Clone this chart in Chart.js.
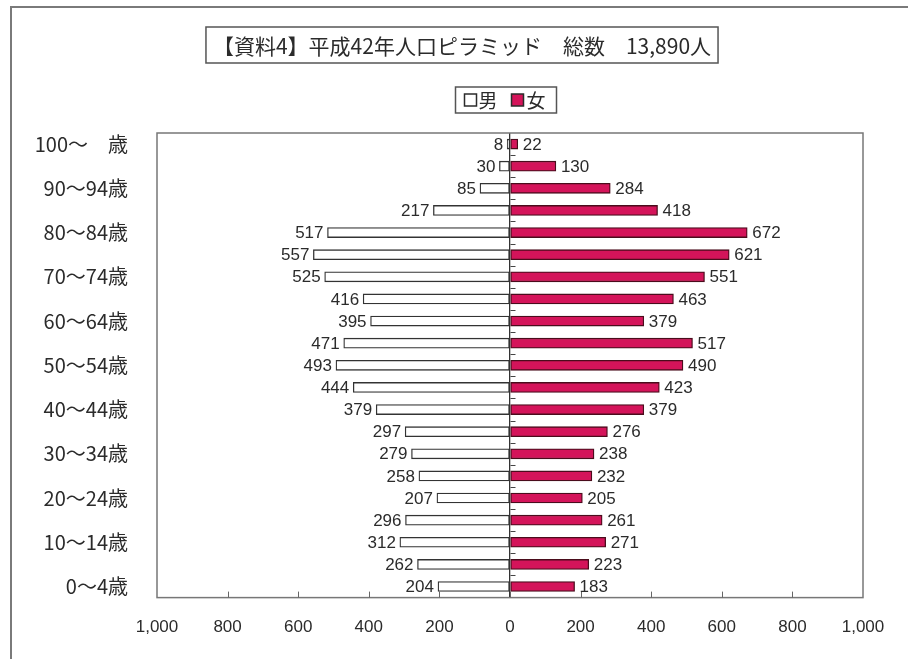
<!DOCTYPE html>
<html lang="ja">
<head>
<meta charset="utf-8">
<script src="https://cdn.jsdelivr.net/npm/chart.js@4"></script>
<style>
  html, body { margin: 0; padding: 0; background: #fff; }
  #wrap { width: 908px; height: 659px; position: relative; }
</style>
</head>
<body>
<div id="wrap"><canvas id="pyramid"></canvas></div>
<script>
// age groups, top row first
const AGE_GROUPS = [
  '100～　歳', '95～99歳', '90～94歳', '85～89歳', '80～84歳', '75～79歳', '70～74歳',
  '65～69歳', '60～64歳', '55～59歳', '50～54歳', '45～49歳', '40～44歳', '35～39歳',
  '30～34歳', '25～29歳', '20～24歳', '15～19歳', '10～14歳', '5～9歳', '0～4歳',
];
const MALE   = [8, 30, 85, 217, 517, 557, 525, 416, 395, 471, 493, 444, 379, 297, 279, 258, 207, 296, 312, 262, 204];
const FEMALE = [22, 130, 284, 418, 672, 621, 551, 463, 379, 517, 490, 423, 379, 276, 238, 232, 205, 261, 271, 223, 183];
const X_TICKS = [-1000, -800, -600, -400, -200, 0, 200, 400, 600, 800, 1000];
const TITLE   = '【資料4】平成42年人口ピラミッド　総数　13,890人';
const LEGEND  = ['男', '女'];

const JP   = "'Noto Sans CJK JP', sans-serif";
const NUM  = "'Liberation Sans', Arial, sans-serif";
const INK  = '#2b2b2b';
const RED  = '#d4145a';

const fmt = v => Math.abs(v).toLocaleString('en-US');

/* ---- frame, plot box, title, legend, value labels ---- */
const decor = {
  id: 'decor',
  afterDraw(chart) {
    const { ctx, chartArea: a, scales } = chart;
    ctx.save();

    // outer page frame (top + left only)
    ctx.strokeStyle = '#7a7a7a';
    ctx.lineWidth = 2;
    ctx.beginPath();
    ctx.moveTo(11, 659); ctx.lineTo(11, 7); ctx.lineTo(908, 7);
    ctx.stroke();

    // plot area border
    ctx.strokeStyle = '#777';
    ctx.lineWidth = 1.5;
    ctx.strokeRect(a.left, a.top, a.right - a.left, a.bottom - a.top);

    // inward x ticks on bottom edge
    const x = scales.x, y = scales.y;
    ctx.strokeStyle = '#666';
    ctx.lineWidth = 1;
    X_TICKS.slice(1, -1).forEach(v => {
      const px = Math.round(x.getPixelForValue(v)) + 0.5;
      ctx.beginPath(); ctx.moveTo(px, a.bottom); ctx.lineTo(px, a.bottom - 6); ctx.stroke();
    });

    // small marks on the zero line between rows
    const x0 = Math.round(x.getPixelForValue(0)) + 0.5;
    ctx.strokeStyle = '#444';
    for (let i = 0; i < AGE_GROUPS.length - 1; i++) {
      const py = Math.round((y.getPixelForTick(i) + y.getPixelForTick(i + 1)) / 2) + 0.5;
      ctx.beginPath(); ctx.moveTo(x0, py); ctx.lineTo(x0 + 5, py); ctx.stroke();
    }

    // boxed title
    const tcx = 462;
    ctx.font = `21px ${JP}`;
    const tw = ctx.measureText(TITLE).width;
    ctx.fillStyle = INK;
    ctx.textAlign = 'center';
    ctx.textBaseline = 'middle';
    ctx.fillText(TITLE, tcx, 46);
    ctx.strokeStyle = '#555';
    ctx.lineWidth = 1.5;
    ctx.strokeRect(tcx - tw / 2 - 7, 27, tw + 14, 36);

    // legend: box centred over the zero line
    const lcx = x0 - 5, ly = 100;
    ctx.strokeRect(lcx - 50, ly - 13, 101, 26);
    ctx.font = `19px ${JP}`;
    ctx.textAlign = 'left';
    ctx.fillStyle = '#fff';
    ctx.strokeStyle = INK;
    ctx.fillRect(lcx - 41, ly - 6, 12, 12);
    ctx.strokeRect(lcx - 41, ly - 6, 12, 12);
    ctx.fillStyle = INK;
    ctx.fillText(LEGEND[0], lcx - 27, ly + 1);
    ctx.fillStyle = RED;
    ctx.fillRect(lcx + 6, ly - 6, 12, 12);
    ctx.strokeRect(lcx + 6, ly - 6, 12, 12);
    ctx.fillStyle = INK;
    ctx.fillText(LEGEND[1], lcx + 21, ly + 1);

    // value labels at bar ends
    ctx.font = `17px ${NUM}`;
    ctx.fillStyle = INK;
    chart.data.datasets.forEach((ds, di) => {
      chart.getDatasetMeta(di).data.forEach((bar, i) => {
        const v = ds.data[i];
        if (v < 0) { ctx.textAlign = 'right'; ctx.fillText(fmt(v), bar.x - 4, bar.y + 1); }
        else       { ctx.textAlign = 'left';  ctx.fillText(fmt(v), bar.x + 5, bar.y + 1); }
      });
    });

    ctx.restore();
  },
};

new Chart(document.getElementById('pyramid'), {
  type: 'bar',
  data: {
    labels: AGE_GROUPS,
    datasets: [
      {
        label: LEGEND[0],
        data: MALE.map(v => -v),
        backgroundColor: '#fff',
        borderColor: '#333',
        borderWidth: 1.3,
        borderSkipped: false,
        barThickness: 10,
      },
      {
        label: LEGEND[1],
        data: FEMALE,
        backgroundColor: RED,
        borderColor: '#4a0c1c',
        borderWidth: 1.3,
        borderSkipped: false,
        barThickness: 10,
      },
    ],
  },
  options: {
    indexAxis: 'y',
    responsive: true,
    maintainAspectRatio: false,
    animation: false,
    layout: { padding: { left: 16, right: 45, top: 133, bottom: 1 } },
    plugins: {
      legend: { display: false },
      tooltip: { enabled: false },
      title: { display: false },
    },
    scales: {
      x: {
        stacked: true,
        min: -1000,
        max: 1000,
        afterBuildTicks: s => { s.ticks = X_TICKS.map(v => ({ value: v })); },
        ticks: {
          color: INK,
          font: { size: 17, family: NUM },
          padding: 20,
          callback: v => fmt(v),
        },
        grid: {
          drawTicks: false,
          color: c => (c.tick && c.tick.value === 0 ? '#333' : 'transparent'),
          lineWidth: 1.3,
        },
        border: { display: false },
      },
      y: {
        stacked: true,
        afterFit: s => { s.width = 141; },
        ticks: {
          color: INK,
          font: { size: 20, family: JP },
          padding: 29,
          autoSkip: false,
          callback: (v, i) => (i % 2 === 0 ? AGE_GROUPS[i] : ''),
        },
        grid: { display: false, drawTicks: false },
        border: { display: false },
      },
    },
  },
  plugins: [decor],
});
</script>
</body>
</html>
